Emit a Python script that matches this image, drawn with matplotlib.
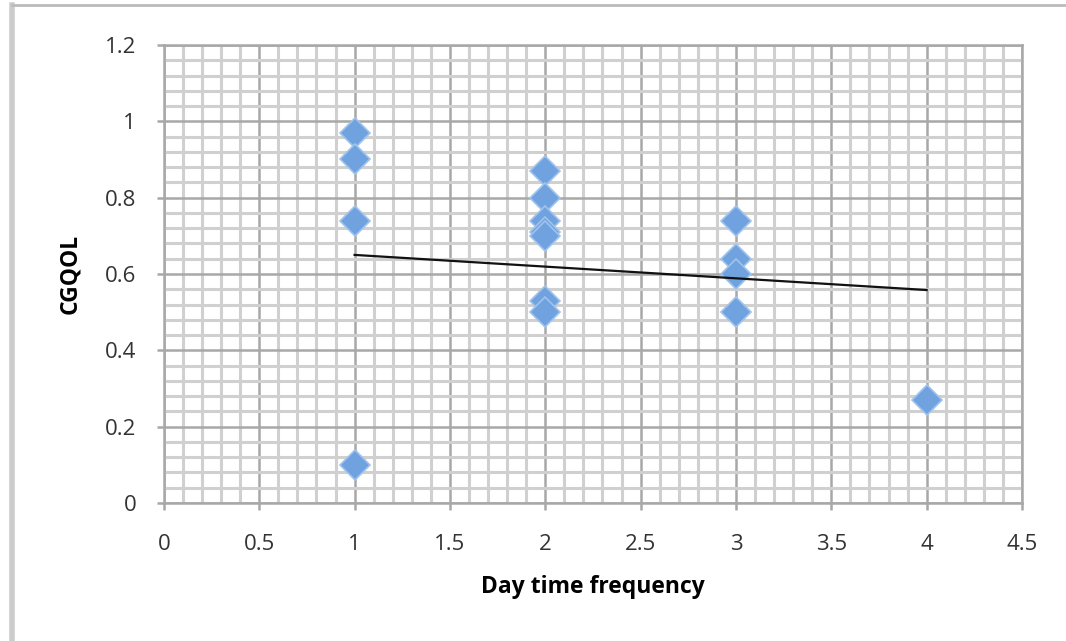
import numpy as np
import matplotlib
matplotlib.use('Agg')
import matplotlib.pyplot as plt
from matplotlib.ticker import MultipleLocator, FuncFormatter

plt.rcParams['font.family'] = ['Open Sans', 'DejaVu Sans']

# data
freq = [1, 1, 1, 1, 2, 2, 2, 2, 2, 2, 2, 3, 3, 3, 3, 4]
cgqol = [0.97, 0.90, 0.74, 0.10, 0.87, 0.80, 0.74, 0.71, 0.70, 0.53, 0.50,
         0.74, 0.64, 0.60, 0.50, 0.27]
trend_x = [1, 4]
trend_y = [0.650, 0.558]

fig = plt.figure(figsize=(10.66, 6.41), dpi=100)
ax = fig.add_axes([0.1538, 0.2153, 0.8049, 0.7145])

ax.set_xlim(0, 4.5)
ax.set_ylim(0, 1.2)
ax.xaxis.set_major_locator(MultipleLocator(0.5))
ax.xaxis.set_minor_locator(MultipleLocator(0.1))
ax.yaxis.set_major_locator(MultipleLocator(0.2))
ax.yaxis.set_minor_locator(MultipleLocator(0.04))
fmt = FuncFormatter(lambda v, p: '%g' % round(v, 2))
ax.xaxis.set_major_formatter(fmt)
ax.yaxis.set_major_formatter(fmt)

ax.grid(which='minor', color='#d0d0d0', lw=2.2, zorder=0)
ax.grid(which='major', color='#a8a8a8', lw=1.8, zorder=0)
ax.set_axisbelow(True)
for s in ax.spines.values():
    s.set_color('#a8a8a8')
    s.set_linewidth(1.8)
ax.tick_params(which='major', length=5, width=1.8, color='#a8a8a8',
               labelsize=16, labelcolor='#333333')
ax.tick_params(axis='y', pad=15)
ax.tick_params(axis='x', pad=17)
ax.tick_params(which='minor', length=0)

ax.plot(freq, cgqol, linestyle='none', marker='D', ms=15,
        mfc='#6fa2df', mec='#a0c3ec', mew=1.2, zorder=3)
ax.plot(trend_x, trend_y, color='#111111', lw=1.6, zorder=4)

ax.set_xlabel('Day time frequency', fontsize=16.5, fontweight='bold', labelpad=15)
ax.set_ylabel('CGQOL', fontsize=16.5, fontweight='bold', labelpad=16)

# screenshot frame on left and top
fig.add_artist(plt.Line2D([0.0113, 0.0113], [0, 0.992], transform=fig.transFigure,
                          color='#cccccc', lw=4))
fig.add_artist(plt.Line2D([0.0113, 1], [0.992, 0.992], transform=fig.transFigure,
                          color='#bbbbbb', lw=2))

fig.savefig('out.png', dpi=100)
